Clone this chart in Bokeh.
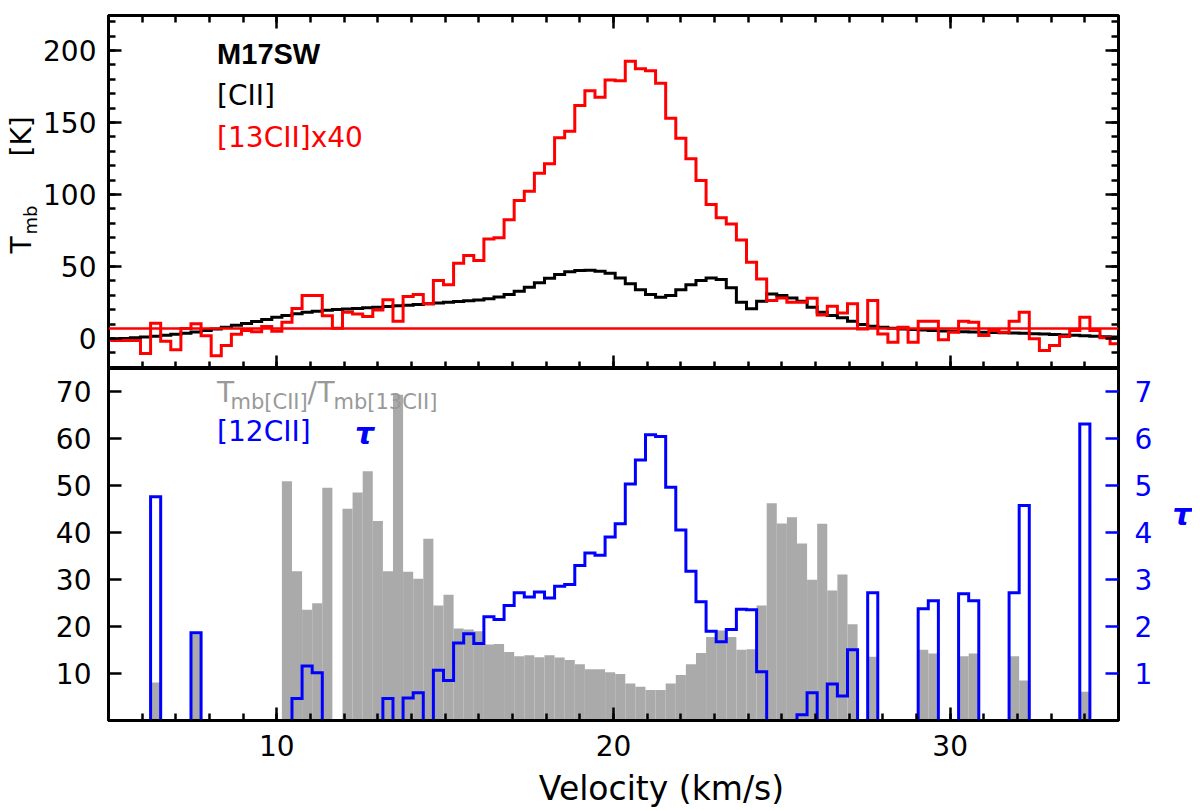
import numpy as np
from bokeh.plotting import figure
from bokeh.models import (LinearAxis, Range1d, SingleIntervalTicker, FixedTicker, Span, Label,
                          CustomJSTickFormatter)
from bokeh.layouts import column, row
from bokeh.embed import file_html
from bokeh.resources import INLINE

font = "DejaVu Sans"

# channel centres, km/s (0.3 km/s channels)
velocity = np.round(5.2 + 0.3 * np.arange(100), 2)

# [CII] main beam temperature (K)
cii = [-0.5, 0.0, 0.5, 1.0, 1.6, 2.2, 2.9, 3.7, 4.6, 5.6,
       6.7, 7.9, 9.2, 10.5, 11.9, 13.3, 14.7, 16.0, 17.2, 18.2,
       19.0, 19.6, 20.1, 20.5, 20.9, 21.3, 21.7, 22.2, 22.7, 23.2,
       23.7, 24.2, 24.7, 25.2, 25.7, 26.2, 26.8, 27.6, 28.8, 30.5,
       32.8, 35.6, 38.8, 41.9, 44.5, 46.3, 47.3, 47.5, 46.8, 45.4,
       42.1, 38.0, 33.8, 30.6, 28.7, 29.9, 33.8, 37.3, 40.3, 42.1,
       41.0, 35.2, 25.2, 20.6, 25.9, 31.0, 29.9, 28.2, 25.9, 21.8,
       18.3, 16.0, 14.4, 12.0, 9.8, 8.6, 7.8, 7.1, 6.6, 6.2,
       5.9, 5.6, 5.3, 5.0, 4.8, 4.6, 4.4, 4.2, 4.0, 3.8,
       3.6, 3.4, 3.1, 2.8, 2.5, 2.2, 1.9, 1.6, 1.3, 1.0]

# [13CII] x 40 (K)
c13_x40 = [-1.4, -1.4, -1.4, -10.4, 10.6, -1.8, -7.7, 6.9, 10.2, 2.0,
           -12.0, -4.9, 3.0, 5.6, 4.8, 8.4, 5.0, 11.3, 20.8, 29.9,
           29.9, 15.8, 7.2, 18.3, 17.1, 15.3, 19.9, 27.0, 12.0, 29.2,
           30.6, 24.1, 40.3, 37.3, 52.3, 57.6, 54.2, 69.2, 69.9, 82.4,
           95.8, 102.3, 114.8, 121.3, 139.4, 144.0, 161.8, 172.0, 167.6, 179.6,
           179.0, 192.6, 187.3, 186.0, 177.3, 153.0, 139.1, 124.8, 109.7, 93.0,
           83.8, 79.6, 68.5, 53.0, 41.4, 26.4, 28.2, 25.2, 25.2, 28.0,
           16.4, 22.5, 17.8, 24.1, 6.7, 26.4, 3.2, -2.5, 7.9, -2.5,
           12.0, 12.0, -0.9, 4.4, 12.0, 11.3, 2.1, 5.6, 4.4, 12.0,
           18.3, -0.2, -8.3, -4.9, 1.4, 5.6, 14.8, 5.6, 0.5, -3.7]
c13_level = 7

# Tmb[CII] / Tmb[13CII]
ratio = [0, 0, 0, 0, 8.1, 0, 0, 0, 18.4, 0,
         0, 0, 0, 0, 0, 0, 0, 51.0, 31.8, 23.6,
         25.0, 49.6, 0, 45.1, 48.6, 53.1, 42.5, 31.8, 69.4, 31.7,
         30.2, 38.7, 24.5, 26.8, 19.6, 19.4, 19.0, 16.2, 16.3, 14.6,
         13.7, 13.9, 13.5, 13.9, 13.4, 12.9, 12.0, 10.9, 10.9, 10.3,
         9.9, 7.9, 7.2, 6.5, 6.5, 7.9, 9.7, 12.0, 14.4, 17.8,
         19.2, 17.8, 15.1, 15.2, 24.5, 46.3, 42.0, 43.3, 37.7, 30.0,
         41.9, 27.7, 31.1, 20.5, 0, 13.6, 0, 0, 0, 0,
         15.1, 14.3, 0, 0, 13.7, 14.3, 0, 0, 0, 13.7,
         8.5, 0, 0, 0, 0, 0, 6.1, 0, 0, 0]

# [12CII] optical depth
tau = [0, 0, 0, 0, 4.77, 0, 0, 0, 1.87, 0,
       0, 0, 0, 0, 0, 0, 0, 0, 0.47, 1.16,
       1.02, 0, 0, 0, 0, 0, 0, 0.47, 0, 0.48,
       0.59, 0, 1.07, 0.85, 1.65, 1.85, 1.64, 2.21, 2.15, 2.45,
       2.72, 2.63, 2.74, 2.61, 2.86, 2.90, 3.30, 3.57, 3.52, 3.91,
       4.19, 5.04, 5.55, 6.09, 6.05, 4.97, 4.06, 3.18, 2.53, 1.90,
       1.68, 1.94, 2.37, 2.36, 1.04, 0, 0, 0, 0.12, 0.59,
       0, 0.78, 0.52, 1.51, 0, 2.72, 0, 0, 0, 0,
       2.38, 2.55, 0, 0, 2.70, 2.55, 0, 0, 0, 2.72,
       4.58, 0, 0, 0, 0, 0, 6.32, 0, 0, 0]

edges = np.append(velocity - 0.15, velocity[-1] + 0.15)


def stairs(vals):
    return np.append(vals, vals[-1])


def add_axis(p, side, ticker, labels=True, color="black", y_range_name="default", standoff=16):
    ax = LinearAxis(ticker=ticker, y_range_name=y_range_name)
    ax.axis_line_color = "black"
    ax.axis_line_width = 3
    ax.major_tick_in = 13
    ax.major_tick_out = 0
    ax.minor_tick_in = 7
    ax.minor_tick_out = 0
    ax.major_tick_line_width = 2.5
    ax.minor_tick_line_width = 2.5
    ax.major_tick_line_color = color
    ax.minor_tick_line_color = color
    if labels:
        ax.major_label_text_font = font
        ax.major_label_text_font_size = "28px"
        ax.major_label_text_color = color
        ax.major_label_standoff = standoff
    else:
        # ticks only, no numbers on this side
        ax.formatter = CustomJSTickFormatter(code="return ''")
        ax.major_label_text_font_size = "0px"
        ax.major_label_standoff = 0
    p.add_layout(ax, side)
    return ax


def note(p, text, x, y, size, color="black", style="normal", angle=0, fnt=font, align="left"):
    # x, y in pixels from the frame's lower-left corner; y is the text's vertical middle
    p.add_layout(Label(x=x, y=y, x_units="screen", y_units="screen", text=text,
                       text_font=fnt, text_font_size=size, text_color=color,
                       text_font_style=style, text_baseline="middle", text_align=align,
                       angle=angle, angle_units="deg"))


def strip(w, h):
    # blank figure used only to carry text beside the panels
    s = figure(frame_width=w, frame_height=h, x_range=Range1d(0, w), y_range=Range1d(0, h),
               x_axis_location=None, y_axis_location=None, toolbar_location=None,
               output_backend="svg", min_border=0)
    s.outline_line_color = None
    s.xgrid.grid_line_color = None
    s.ygrid.grid_line_color = None
    return s


xr = Range1d(5, 35)

# ---- top panel ----
p1 = figure(frame_width=1010, frame_height=353, x_range=xr, y_range=Range1d(-20.8, 224.3),
            x_axis_location=None, y_axis_location=None, toolbar_location=None,
            output_backend="svg", min_border_left=68, min_border_right=74,
            min_border_top=15, min_border_bottom=0)
p1.outline_line_color = "black"
p1.outline_line_width = 3
p1.xgrid.grid_line_color = None
p1.ygrid.grid_line_color = None

p1.add_layout(Span(location=c13_level, dimension="width", line_color="red", line_width=2.5))
p1.step(edges, stairs(cii), mode="after", line_color="black", line_width=3, line_join="miter")
p1.step(edges, stairs(c13_x40), mode="after", line_color="red", line_width=3, line_join="miter")

add_axis(p1, "left", SingleIntervalTicker(interval=50, num_minor_ticks=5), standoff=12)
add_axis(p1, "right", SingleIntervalTicker(interval=50, num_minor_ticks=5), labels=False)
add_axis(p1, "above", SingleIntervalTicker(interval=10, num_minor_ticks=10), labels=False)
add_axis(p1, "below", SingleIntervalTicker(interval=10, num_minor_ticks=10), labels=False)

note(p1, "M17SW", 108.6, 315, "29px", style="bold", fnt="Liberation Sans")
note(p1, "[CII]", 108.6, 272.7, "28px")
note(p1, "[13CII]x40", 108.6, 231, "28px", color="red")

# y-axis title T_mb [K] (left strip)
ylab = strip(40, 368)
note(ylab, "T", 21, 130, "28px", angle=90)
note(ylab, "mb", 29.5, 149, "18px", angle=90)
note(ylab, "[K]", 21, 227, "28px", angle=90)

# ---- bottom panel ----
p2 = figure(frame_width=1010, frame_height=352, x_range=xr, y_range=Range1d(0, 75),
            x_axis_location=None, y_axis_location=None, toolbar_location=None,
            output_backend="svg", min_border_left=108, min_border_right=52,
            min_border_top=0, min_border_bottom=48)
p2.extra_y_ranges = {"tau": Range1d(0, 7.5)}
p2.outline_line_color = "black"
p2.outline_line_width = 3
p2.xgrid.grid_line_color = None
p2.ygrid.grid_line_color = None

p2.vbar(x=velocity, top=ratio, width=0.3, fill_color="#aaaaaa", line_color=None)
p2.step(edges, stairs(tau), mode="after", y_range_name="tau",
        line_color="blue", line_width=3, line_join="miter")

add_axis(p2, "left", FixedTicker(ticks=[10, 20, 30, 40, 50, 60, 70]), standoff=17)
add_axis(p2, "right", FixedTicker(ticks=[1, 2, 3, 4, 5, 6, 7]), color="blue",
         y_range_name="tau", standoff=16)
add_axis(p2, "below", SingleIntervalTicker(interval=10, num_minor_ticks=10), standoff=14)

gray = "#999999"
note(p2, "T", 108.6, 327.7, "28px", color=gray)
note(p2, "mb[CII]", 122, 318.3, "21px", color=gray)
note(p2, "/", 199, 327.7, "28px", color=gray)
note(p2, "T", 209, 327.7, "28px", color=gray)
note(p2, "mb[13CII]", 225, 318.3, "21px", color=gray)
note(p2, "[12CII]", 108.6, 288.7, "28px", color="blue")
note(p2, "\u03c4", 246.6, 287.4, "30px", color="blue", style="bold italic")

# right-axis title (tau)
taulab = strip(22, 400)
note(taulab, "\u03c4", 2, 254.4, "30px", color="blue", style="bold italic")

# x-axis title
xlab = strip(1192, 40)
note(xlab, "Velocity (km/s)", 661, 20, "33px", align="center")

layout = column(row(ylab, p1), row(p2, taulab), xlab)
open("out.html", "w").write(file_html(layout, INLINE))
